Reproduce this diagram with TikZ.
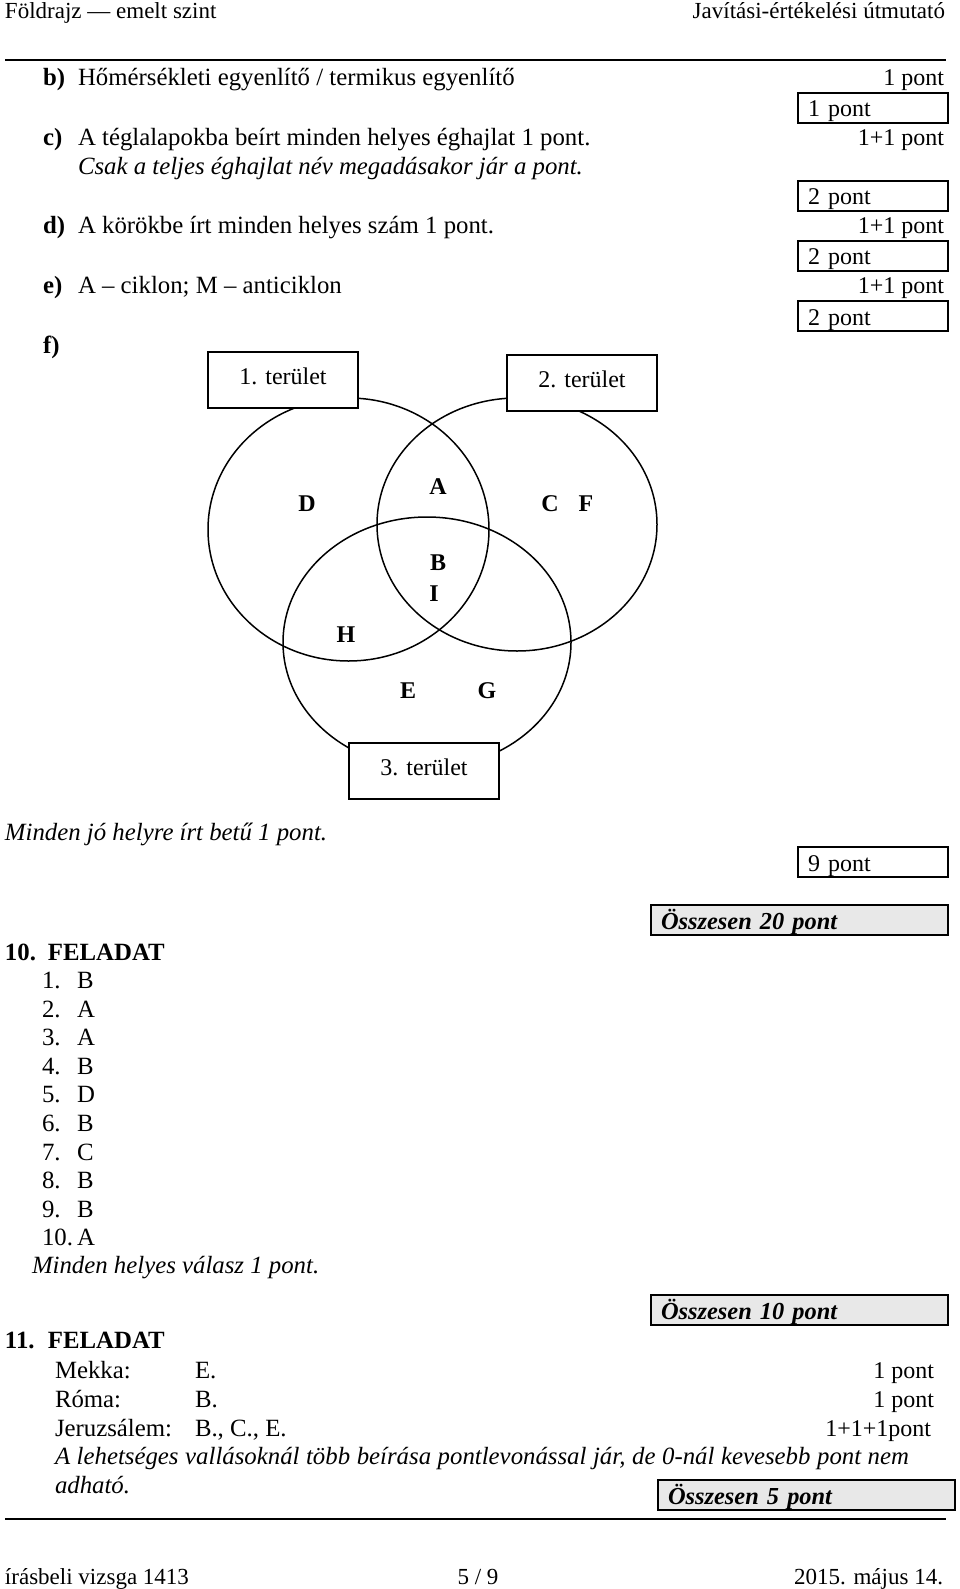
\documentclass[tikz,border=0pt]{standalone}
\usepackage{fontspec}
\setmainfont{Liberation Serif}

\definecolor{ce8e8e8}{RGB}{232,232,232}

\tikzset{
  pt/.style={anchor=base east, font=\fontsize{24}{29}\selectfont},
  ptbox/.style={draw=black, line width=1.2pt, anchor=north west,
    minimum width=150pt, minimum height=30pt, text width=130pt, align=left,
    inner xsep=10pt, inner ysep=0pt, text height=24pt, text depth=6pt,
    font=\fontsize{24}{29}\selectfont},
  sumbox/.style={ptbox, fill=ce8e8e8, line width=1.5pt, minimum width=297pt,
    text width=277pt, font=\fontsize{24.4}{29}\selectfont\bfseries\itshape},
  areabox/.style={draw=black, line width=1.2pt, fill=white, anchor=north west,
    minimum width=150pt, minimum height=56pt, inner sep=0pt, text height=32pt,
    text depth=24pt, font=\fontsize{24}{29}\selectfont},
  venn/.style={draw=black, line width=1.5pt},
  letter/.style={anchor=base, font=\fontsize{24}{29}\selectfont\bfseries},
  headline/.style={font=\fontsize{23}{27}\selectfont},
}

\begin{document}
\fontsize{24.8}{30}\selectfont
\begin{tikzpicture}[y=1pt, x=1pt, yscale=-1, inner sep=0pt, outer sep=0pt]
  \path[use as bounding box, fill=white] (0,0) rectangle (960,1589);

  % header
  \path (5,19) node[anchor=base west, headline] (text-head1)
    {Földrajz — emelt szint};
  \path (945,19) node[anchor=base east, headline] (text-head2)
    {Javítási-értékelési útmutató};
  \path[draw=black, line width=2pt] (5,60) -- (946,60);

  % b) - f)
  \path (43,86) node[anchor=base west] (text-b) {\bfseries b)};
  \path (78,86) node[anchor=base west] (text-bt)
    {Hőmérsékleti egyenlítő / termikus egyenlítő};
  \path (944,86) node[pt] (text-bp) {1 pont};
  \node[ptbox] (rect-b) at (798,93) {1 pont};
  \path (43,146) node[anchor=base west] (text-c) {\bfseries c)};
  \path (78,146) node[anchor=base west] (text-ct)
    {A téglalapokba beírt minden helyes éghajlat 1 pont.};
  \path (78,175) node[anchor=base west] (text-ci)
    {\itshape Csak a teljes éghajlat név megadásakor jár a pont.};
  \path (944,146) node[pt] (text-cp) {1+1 pont};
  \node[ptbox] (rect-c) at (798,181) {2 pont};
  \path (43,234) node[anchor=base west] (text-d) {\bfseries d)};
  \path (78,234) node[anchor=base west] (text-dt)
    {A körökbe írt minden helyes szám 1 pont.};
  \path (944,234) node[pt] (text-dp) {1+1 pont};
  \node[ptbox] (rect-d) at (798,241) {2 pont};
  \path (43,293) node[anchor=base west] (text-e) {\bfseries e)};
  \path (78,293) node[anchor=base west] (text-et)
    {A – ciklon; M – anticiklon};
  \path (944,293) node[pt] (text-ep) {1+1 pont};
  \node[ptbox] (rect-e) at (798,301) {2 pont};
  \path (43,353) node[anchor=base west] (text-f) {\bfseries f)};

  % venn
  \path[venn] (348.5,529.5) ellipse (140.5 and 131.5);
  \path[venn] (517,524.5) ellipse (140 and 126.5);
  \path[venn] (427,642.5) ellipse (144 and 125.5);
  \node[areabox] (rect-area1) at (208,352) {1. terület};
  \node[areabox] (rect-area2) at (507,355) {2. terület};
  \node[areabox] (rect-area3) at (349,743) {3. terület};
  \path (307,511) node[letter] (text-D) {D};
  \path (438,494) node[letter] (text-A) {A};
  \path (550,511) node[letter] (text-C) {C};
  \path (586,511) node[letter] (text-F) {F};
  \path (438,570) node[letter] (text-B) {B};
  \path (434,601) node[letter] (text-I) {I};
  \path (346,642) node[letter] (text-H) {H};
  \path (408,698) node[letter] (text-E) {E};
  \path (487,698) node[letter] (text-G) {G};

  \path (5,840) node[anchor=base west] (text-fi)
    {\itshape Minden jó helyre írt betű 1 pont.};
  \node[ptbox] (rect-f) at (798,847) {9 pont};
  \node[sumbox] (rect-sum9) at (651,905) {Összesen 20 pont};

  % 10. feladat
  \path (5,960) node[anchor=base west] (text-f10)
    {\bfseries\makebox[43pt][l]{10.}FELADAT};
  \path (42,988) node[anchor=base west] (text-q1) {1.}
    (77,988) node[anchor=base west] (text-a1) {B};
  \path (42,1017) node[anchor=base west] (text-q2) {2.}
    (77,1017) node[anchor=base west] (text-a2) {A};
  \path (42,1045) node[anchor=base west] (text-q3) {3.}
    (77,1045) node[anchor=base west] (text-a3) {A};
  \path (42,1074) node[anchor=base west] (text-q4) {4.}
    (77,1074) node[anchor=base west] (text-a4) {B};
  \path (42,1102) node[anchor=base west] (text-q5) {5.}
    (77,1102) node[anchor=base west] (text-a5) {D};
  \path (42,1131) node[anchor=base west] (text-q6) {6.}
    (77,1131) node[anchor=base west] (text-a6) {B};
  \path (42,1160) node[anchor=base west] (text-q7) {7.}
    (77,1160) node[anchor=base west] (text-a7) {C};
  \path (42,1188) node[anchor=base west] (text-q8) {8.}
    (77,1188) node[anchor=base west] (text-a8) {B};
  \path (42,1217) node[anchor=base west] (text-q9) {9.}
    (77,1217) node[anchor=base west] (text-a9) {B};
  \path (42,1245) node[anchor=base west] (text-q10) {10.}
    (77,1245) node[anchor=base west] (text-a10) {A};
  \path (32,1273) node[anchor=base west] (text-f10i)
    {\itshape Minden helyes válasz 1 pont.};
  \node[sumbox] (rect-sum10) at (651,1295) {Összesen 10 pont};

  % 11. feladat
  \path (5,1348) node[anchor=base west] (text-f11)
    {\bfseries\makebox[43pt][l]{11.}FELADAT};
  \path (55,1378) node[anchor=base west] (text-mekka) {Mekka:}
    (195,1378) node[anchor=base west] (text-mekkaa) {E.}
    (934,1378) node[pt] (text-mekkap) {1 pont};
  \path (55,1407) node[anchor=base west] (text-roma) {Róma:}
    (195,1407) node[anchor=base west] (text-romaa) {B.}
    (934,1407) node[pt] (text-romap) {1 pont};
  \path (55,1436) node[anchor=base west] (text-jer) {Jeruzsálem:}
    (195,1436) node[anchor=base west] (text-jera) {B., C., E.}
    (931,1436) node[pt] (text-jerp) {1+1+1pont};
  \path (55,1464) node[anchor=base west] (text-f11i)
    {\itshape\makebox[854pt][s]{A lehetséges vallásoknál több beírása
    pontlevonással jár, de 0-nál kevesebb pont nem}};
  \path (55,1493) node[anchor=base west] (text-f11j) {\itshape adható.};
  \node[sumbox] (rect-sum11) at (658,1480) {Összesen 5 pont};

  % footer
  \path[draw=black, line width=2pt] (5,1519) -- (946,1519);
  \path (5,1584) node[anchor=base west, headline] (text-foot1)
    {írásbeli vizsga 1413};
  \path (478,1584) node[anchor=base, headline] (text-foot2) {5 / 9};
  \path (943,1584) node[anchor=base east, headline] (text-foot3)
    {2015. május 14.};
\end{tikzpicture}
\end{document}
